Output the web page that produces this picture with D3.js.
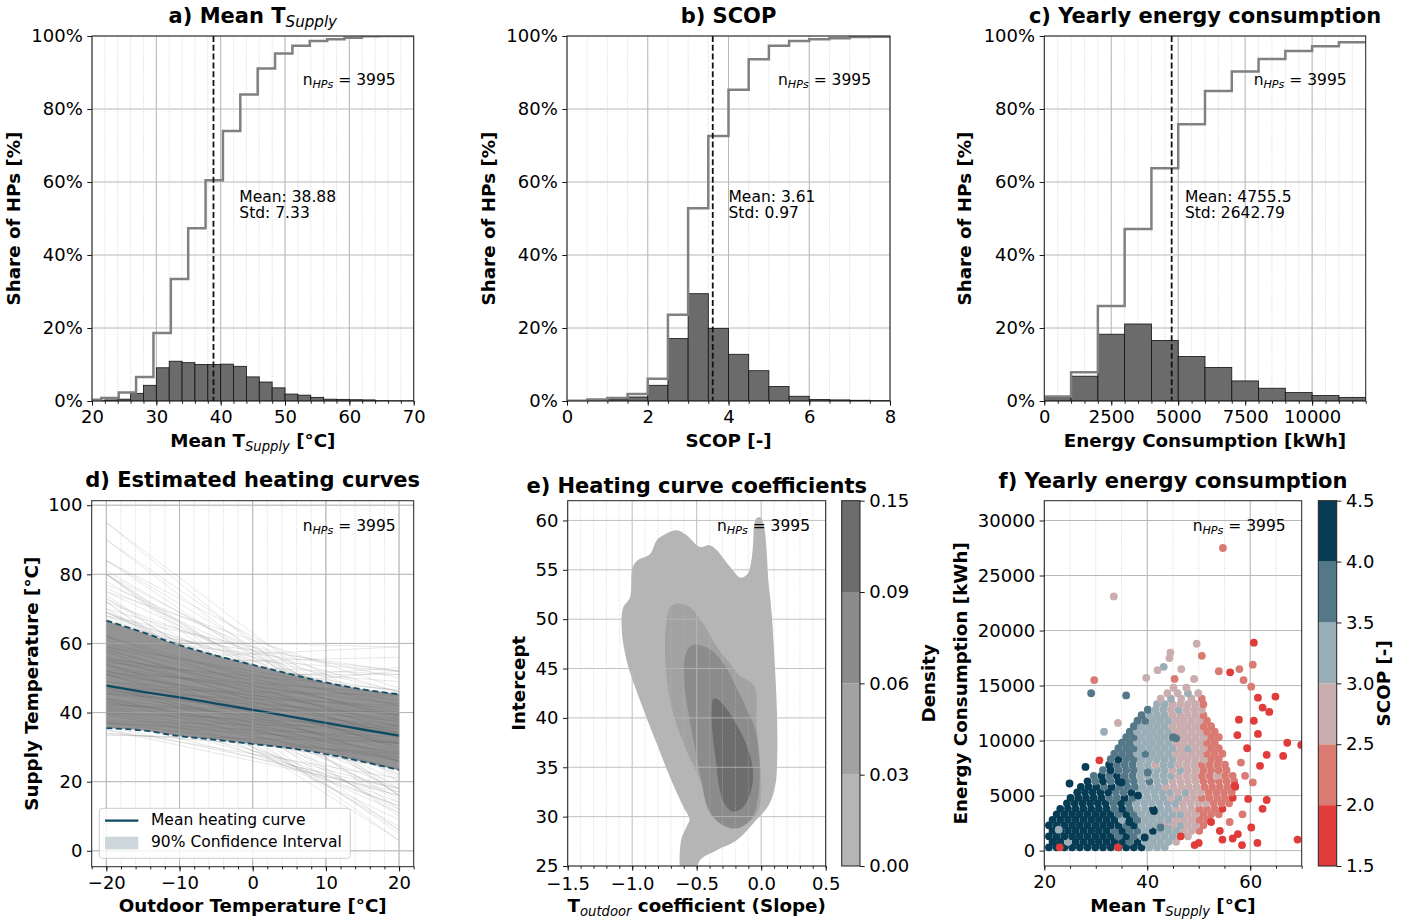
<!DOCTYPE html>
<html>
<head>
<meta charset="utf-8">
<script src="https://cdn.jsdelivr.net/npm/d3@7"></script>
<style>body{margin:0;background:#fff}</style>
</head>
<body>
<script>
// ---------- data ----------
const nHPs = 3995;

// a) mean supply temperature
const tsupEdges = [20,22,24,26,28,30,32,34,36,38,40,42,44,46,48,50,52,54,56,58,60,62,64,66,68,70];
const tsupShare = [0.1,0.3,0.5,2.1,4.3,9.1,10.9,10.5,10.0,10.0,10.1,9.5,6.6,5.2,3.6,1.9,1.6,1.0,0.5,0.45,0.35,0.3,0.1,0.05,0.05];
const tsupCumEdges = [18.75,21.45,24.15,26.85,29.55,32.25,34.95,37.65,40.35,43.05,45.75,48.45,51.15,53.85,56.55,59.25,61.95,64.65,67.35,70.05];
const tsupCum = [0.35,0.8,2.3,6.6,18.6,33.4,47.3,60.5,74.0,84.0,91.1,95.2,97.3,98.6,99.1,99.5,99.9,100,100];
const tsupStats = {mean: 38.88, std: 7.33, textX: 42.9};

// b) SCOP
const scopEdges = [0,0.5,1,1.5,2,2.5,3,3.5,4,4.5,5,5.5,6,6.5,7,7.5,8];
const scopShare = [0.05,0.2,0.5,1.1,4.3,17.1,29.4,19.9,12.8,8.3,4.0,1.3,0.4,0.3,0.2,0.1];
const scopCum = [0.1,0.4,0.8,1.9,6.1,23.6,52.8,72.6,85.3,93.6,97.3,98.6,99.1,99.4,99.7,99.8];
const scopStats = {mean: 3.61, std: 0.97, textX: 4.0};

// c) yearly energy consumption
const energyEdges = [0,1000,2000,3000,4000,5000,6000,7000,8000,9000,10000,11000,12000];
const energyShare = [1.1,6.8,18.3,21.1,16.6,12.2,9.2,5.5,3.5,2.3,1.5,1.0];
const energyCum = [1.2,7.9,26.0,47.1,63.8,75.8,84.9,90.3,93.7,95.9,97.2,98.3];
const energyStats = {mean: 4755.5, std: 2642.79, textX: 5250};

// d) heating curves
const hcTemps = [-20,-15,-10,-5,0,5,10,15,20];
const hcMean  = [47.8,46.0,44.4,42.6,40.8,38.9,37.0,35.1,33.3];
const hcUpper = [66.6,63.2,59.5,56.5,53.8,51.2,48.7,46.7,45.3];
const hcLower = [35.5,34.8,33.2,32.1,30.9,29.7,28.0,25.8,23.4];
// [intercept, slope] of individual curves (a representative subset)
const hcCore = [[31,-0.15],[31.5,-0.4],[32,-0.25],[32.5,-0.05],[33,-0.35],[33.5,-0.5],[34,-0.15],[34.5,-0.3],[35,-0.45],[35,-0.1],
  [35.5,-0.6],[36,-0.25],[36,-0.4],[36.5,-0.05],[37,-0.3],[37,-0.55],[37.5,-0.2],[38,-0.45],[38,-0.1],[38.5,-0.35],
  [39,-0.6],[39,-0.25],[39.5,-0.15],[40,-0.4],[40,-0.7],[40.5,-0.3],[41,-0.05],[41,-0.5],[41.5,-0.2],[42,-0.35],
  [42,-0.6],[42.5,-0.15],[43,-0.45],[43,-0.25],[43.5,-0.7],[44,-0.1],[44,-0.4],[44.5,-0.55],[45,-0.3],[45,-0.2],
  [45.5,-0.65],[46,-0.45],[46,-0.05],[46.5,-0.35],[47,-0.55],[47.5,-0.25],[48,-0.7],[48,-0.4],[48.5,-0.15],[49,-0.5],
  [49.5,-0.3],[50,-0.6],[50.5,-0.2],[51,-0.45],[52,-0.35]];
const hcOuter = [[60,-1.75],[58,-1.6],[57,-1.2],[55,-1.0],[53,-1.35],[51,-1.1],[54,-0.75],[56,-0.5],[58,-0.3],[60,-0.05],
  [57,0.1],[53,-0.1],[55,0.05],[50,0.15],[48,0.2],[46,-0.9],[44,-1.05],[42,-1.2],[40,-1.0],[38,-1.15],
  [36,-1.25],[34,-1.1],[32,-1.3],[30,-1.35],[29,-1.0],[28,-0.75],[27,-0.45],[28,-0.35],[29,-0.55],[26,-0.45],
  [30,-0.8],[52,-0.85],[49,-0.95],[47,-1.3],[45,-1.45],[59,-0.9],[62,-1.1],[61,-0.7],[56,-1.4],[43,0.1],[41,0.15],[39,0.05],
  [63,-1.6],[61,-1.45],[59,-1.25],[58,-1.1],[57,-0.95],[56,-0.8],[55,-0.65],[54,-0.5],[53,-0.35],[52,-0.15],
  [51,0],[54,-1.2],[52,-1.4],[50,-1.5],[48,-1.6],[46,-1.2],[44,-1.4],[42,-1.5],[40,-1.3],[38,-1.4],
  [36,-1.5],[34,-1.45],[33,-1.5],[31,-1.2],[30,-0.95],[29,-0.8],[28,-0.6],[27,-0.55],[58,-0.6],[59,-0.45],
  [57,-0.25],[55,-0.15],[53,-0.7],[50,-0.95],[48,-1.05],[45,-0.85],[43,-0.9],[41,-0.8],[39,-0.85],[37,-0.9],
  [35,-0.85],[33,-0.8]];

// e) KDE of heating curve coefficients: [slope, intercept] outlines per density level
const kdeLevels = [0, 0.03, 0.06, 0.09, 0.15];
const kdeColors = ["#b5b5b5", "#a2a2a2", "#8c8c8c", "#6d6d6d"];
const kdeOutlines = [
  [[-0.999,55.1],[-0.965,55.9],[-0.862,56.6],[-0.810,58.0],[-0.759,58.5],[-0.655,59.0],[-0.578,58.5],[-0.474,57.3],[-0.397,57.5],
   [-0.345,57.0],[-0.242,55.3],[-0.160,54.2],[-0.105,54.6],[-0.078,55.8],[-0.062,57.8],[-0.055,59.5],[-0.035,60.25],[-0.005,60.3],
   [0.022,59.4],[0.040,57.3],[0.055,54.0],[0.080,50.8],[0.105,45.5],[0.122,40.6],[0.124,36.0],[0.110,33.2],[0.060,31.2],
   [-0.035,29.7],[-0.190,27.6],[-0.345,26.6],[-0.474,25.6],[-0.520,24.0],[-0.610,24.0],[-0.621,27.6],[-0.578,29.0],[-0.556,29.7],
   [-0.603,31.0],[-0.707,34.0],[-0.810,37.4],[-0.940,41.8],[-1.043,45.8],[-1.082,49.2],[-1.069,51.2],[-1.017,52.2]],
  [[-0.655,51.6],[-0.707,51.2],[-0.733,49.9],[-0.746,47.5],[-0.733,44.1],[-0.681,40.4],[-0.578,36.7],[-0.474,33.7],[-0.397,30.3],
   [-0.294,29.3],[-0.139,29.15],[-0.035,30.3],[0.004,32.4],[-0.009,35.7],[-0.035,39.1],[-0.048,43.1],[-0.100,43.8],[-0.152,44.1],
   [-0.242,45.5],[-0.345,47.2],[-0.448,49.5],[-0.552,51.2]],
  [[-0.539,47.35],[-0.590,46.3],[-0.598,43.6],[-0.565,40.6],[-0.513,36.9],[-0.461,33.5],[-0.410,30.8],[-0.319,29.3],[-0.190,28.8],
   [-0.074,29.8],[-0.022,32.2],[-0.014,35.5],[-0.048,38.9],[-0.112,40.9],[-0.190,43.0],[-0.267,45.0],[-0.371,46.7],[-0.474,47.35]],
  [[-0.371,41.95],[-0.384,40.9],[-0.376,38.25],[-0.350,35.55],[-0.324,32.85],[-0.280,31.2],[-0.216,30.5],[-0.138,31.0],[-0.074,32.85],
   [-0.066,34.9],[-0.112,37.2],[-0.190,39.3],[-0.267,40.9],[-0.345,41.95]]
];

// f) scatter. Dense cluster as rows: [energy kWh, [mean supply temps], [SCOP]]
const scopBounds = [1.5, 2.0, 2.5, 3.0, 3.5, 4.0, 4.5];
const scopColors = ["#e03c3a", "#d97b73", "#c9adaf", "#9aaeb7", "#557889", "#063d55"];
const hpRows = [
 [300,[20.9,22.4,23.9,25.4,26.9,28.4,29.9,31.4,32.9,34.4,35.9,37.4,38.9,40.4,41.9,43.4],
      [4.3,4.2,4.4,4.2,4.3,4.1,4.2,4.3,4.0,4.2,4.1,4.2,4.2,3.2,3.1,3.0]],
 [800,[21.6,23.1,24.6,26.1,27.6,29.1,30.6,32.1,33.6,35.1,36.6,38.1,39.6,41.1,42.6,44.1,45.6],
      [4.2,4.3,3.2,4.4,4.1,4.3,4.2,4.2,4.0,4.3,3.7,4.1,3.3,3.2,3.1,3.3,2.8]],
 [1300,[20.9,22.4,23.9,25.4,26.9,28.4,29.9,31.4,32.9,34.4,35.9,37.4,38.9,40.4,41.9,43.4,44.9,46.4,47.9],
      [4.3,4.2,4.3,4.4,4.1,4.3,4.2,4.0,4.2,3.7,4.3,3.8,3.4,3.2,3.3,3.1,3.2,2.9,2.7]],
 [1800,[21.6,23.1,24.6,26.1,27.6,29.1,30.6,32.1,33.6,35.1,36.6,38.1,39.6,41.1,42.6,44.1,45.6,47.1,48.6,50.1],
      [4.2,4.4,4.2,4.3,4.1,4.3,4.2,4.3,3.7,4.2,3.8,3.6,3.2,4.1,3.1,3.2,3.0,2.8,2.7,2.4]],
 [2300,[20.9,22.4,23.9,25.4,26.9,28.4,29.9,31.4,32.9,34.4,35.9,37.4,38.9,40.4,41.9,43.4,44.9,46.4,47.9,49.4,50.9],
      [4.3,4.2,4.3,4.2,4.4,4.1,4.3,4.2,4.1,4.3,3.7,4.2,3.3,3.2,3.4,2.7,2.8,3.2,2.7,2.6,2.3]],
 [2800,[21.6,23.1,24.6,26.1,27.6,29.1,30.6,32.1,33.6,35.1,36.6,38.1,39.6,41.1,42.6,44.1,45.6,47.1,48.6,50.1,51.6],
      [4.2,4.3,4.4,4.1,4.3,4.2,4.2,4.3,4.0,3.2,4.2,3.6,3.3,3.2,3.1,3.3,2.9,2.7,2.8,2.4,2.2]],
 [3300,[22.4,23.9,25.4,26.9,28.4,29.9,31.4,32.9,34.4,35.9,37.4,38.9,40.4,41.9,43.4,44.9,46.4,47.9,49.4,50.9,52.4,53.9],
      [4.3,4.2,4.3,4.4,4.2,4.1,4.3,4.2,3.7,4.2,3.8,3.3,3.2,3.1,3.3,3.0,3.2,2.7,2.6,2.3,2.2,2.1]],
 [3800,[23.1,24.6,26.1,27.6,29.1,30.6,32.1,33.6,35.1,36.6,38.1,39.6,41.1,42.6,44.1,45.6,47.1,48.6,50.1,51.6,53.1,54.6],
      [4.2,4.3,4.1,4.3,4.2,4.4,4.2,3.8,4.1,3.7,3.4,3.2,4.2,3.1,3.2,2.9,2.7,2.8,2.4,2.2,2.3,1.9]],
 [4300,[24.4,25.9,27.4,28.9,30.4,31.9,33.4,34.9,36.4,37.9,39.4,40.9,42.4,43.9,45.4,46.9,48.4,49.9,51.4,52.9,54.4,55.9],
      [4.3,4.2,4.3,4.1,4.2,4.3,3.9,4.2,3.7,3.3,3.2,3.4,3.1,3.2,3.0,2.8,2.7,2.6,2.7,2.2,2.1,2.4]],
 [4800,[25.1,26.6,28.1,29.6,31.1,32.6,34.1,35.6,37.1,38.6,40.1,41.6,43.1,44.6,46.1,47.6,49.1,50.6,52.1,53.6,55.1,56.6],
      [4.2,4.3,4.2,4.1,4.3,3.7,3.7,4.1,3.6,3.3,3.2,3.1,3.3,2.9,3.1,2.7,2.8,2.4,2.2,2.3,2.1,1.9]],
 [5300,[26.4,27.9,29.4,30.9,32.4,33.9,35.4,36.9,38.4,39.9,41.4,42.9,44.4,45.9,47.4,48.9,50.4,51.9,53.4,54.9,56.4],
      [4.3,4.2,4.1,4.3,4.2,3.8,3.7,4.1,3.3,3.2,3.1,3.4,3.0,2.8,3.2,2.7,2.6,2.3,2.2,2.4,2.1]],
 [5800,[27.1,28.6,30.1,31.6,33.1,34.6,36.1,37.6,39.1,40.6,42.1,43.6,45.1,46.6,48.1,49.6,51.1,52.6,54.1,55.6,57.1],
      [4.2,4.1,4.3,3.8,4.2,3.7,3.7,3.6,3.3,3.2,3.1,2.7,2.9,2.8,2.7,2.6,2.4,2.2,2.3,2.1,1.9]],
 [6300,[28.4,29.9,31.4,32.9,34.4,35.9,37.4,38.9,40.4,41.9,43.4,44.9,46.4,47.9,49.4,50.9,52.4,53.9,55.4,56.9],
      [4.2,3.8,4.1,3.7,4.2,3.7,3.6,3.3,3.7,3.4,3.1,2.9,2.8,2.7,2.6,2.3,2.2,2.4,2.1,2.2]],
 [6800,[29.6,31.1,32.6,34.1,35.6,37.1,38.6,40.1,41.6,43.1,44.6,46.1,47.6,49.1,50.6,52.1,53.6,55.1,56.6],
      [3.8,4.2,3.7,4.1,3.7,3.6,3.3,3.2,3.1,3.3,3.0,2.8,2.7,2.8,2.4,2.2,2.7,2.1,2.2]],
 [7300,[31.4,32.9,34.4,35.9,37.4,38.9,40.4,41.9,43.4,44.9,46.4,47.9,49.4,50.9,52.4,53.9,55.4],
      [3.7,4.2,3.8,3.7,3.7,3.3,3.2,3.1,3.2,2.9,3.2,2.7,2.6,2.3,2.2,2.3,2.1]],
 [7800,[32.6,34.1,35.6,37.1,38.6,40.1,41.6,43.1,44.6,46.1,47.6,49.1,50.6,52.1,53.6,55.1],
      [4.2,3.7,3.8,3.6,3.3,3.2,2.7,3.1,3.2,2.9,2.7,2.8,2.4,2.2,2.3,2.1]],
 [8300,[32.9,34.4,35.9,37.4,38.9,40.4,41.9,43.4,44.9,46.4,47.9,49.4,50.9,52.4,53.9],
      [3.7,4.2,3.7,3.6,3.3,3.2,3.1,3.3,3.0,2.8,2.7,2.6,2.7,2.2,2.4]],
 [8800,[33.6,35.1,36.6,38.1,39.6,41.1,42.6,44.1,45.6,47.1,48.6,50.1,51.6,53.1,54.6],
      [3.7,3.8,3.7,3.4,3.7,3.3,3.1,3.2,2.9,2.8,2.7,2.6,2.4,2.2,2.3]],
 [9300,[34.4,35.9,37.4,38.9,40.4,41.9,43.4,44.9,46.4,47.9,49.4,50.9,52.4,53.9],
      [3.7,3.7,3.6,3.3,3.2,3.4,3.1,3.2,2.9,3.2,2.7,2.6,2.2,2.3]],
 [9800,[35.1,36.6,38.1,39.6,41.1,42.6,44.1,45.6,47.1,48.6,50.1,51.6,53.1],
      [3.8,3.7,3.3,3.2,3.1,3.3,3.2,2.7,2.8,2.7,2.6,2.4,2.2]],
 [10300,[35.9,37.4,38.9,40.4,41.9,43.4,44.9,46.4,47.9,49.4,50.9,52.4,53.9],
      [3.7,3.6,3.3,3.2,3.4,3.1,3.2,2.9,2.8,2.7,2.6,2.2,2.3]],
 [10800,[36.6,38.1,39.6,41.1,42.6,44.1,45.6,47.1,48.6,50.1,51.6,53.1],
      [3.7,3.3,3.2,3.1,3.3,3.2,2.9,2.8,2.7,2.6,2.4,2.2]],
 [11300,[37.4,38.9,40.4,41.9,43.4,44.9,46.4,47.9,49.4,50.9,52.4],
      [3.7,3.3,3.2,3.1,3.3,2.9,2.8,2.7,2.6,2.4,2.2]],
 [11800,[38.1,39.6,41.1,42.6,44.1,45.6,47.1,48.6,50.1,51.6],
      [3.6,3.7,3.2,3.3,3.1,2.9,2.8,2.7,2.6,2.3]],
 [12300,[38.9,40.4,41.9,43.4,44.9,46.4,47.9,49.4,50.9],
      [3.7,3.2,3.3,3.1,2.9,2.8,2.7,2.6,2.3]],
 [12800,[40.1,41.6,43.1,44.6,46.1,47.6,49.1,50.6],
      [3.7,3.3,3.2,2.8,3.1,2.7,2.8,2.6]],
 [13300,[41.9,43.4,44.9,46.4,47.9,49.4,50.9],[3.3,3.2,2.8,2.7,2.8,2.6,2.3]],
 [13800,[42.6,44.6,46.6,48.6,50.6],[2.8,3.2,2.7,2.8,2.2]],
 [14300,[43.9,45.9,47.9,49.9],[2.8,2.7,3.2,2.7]],
 [14800,[45.1,47.6],[2.7,2.8]]
];
// scattered heat pumps outside the dense cluster: [mean supply temp, energy kWh, SCOP]
const hpOutliers = [
 [36.5,2600,4.3],[38.2,5000,4.2],[40.1,7100,3.7],[41.3,3600,4.1],[39.5,1200,4.3],[42.6,2100,3.7],[45.0,10300,3.7],[35.0,6200,4.1],[44.0,2000,3.2],
 [54.7,27500,2.2],[33.5,23100,2.7],[49.6,18800,2.7],[60.7,18900,1.8],[50.6,17700,2.2],[44.5,18000,2.7],[44.3,17500,2.7],[60.5,16900,2.2],
 [29.7,15500,2.2],[29.1,14300,3.7],[35.9,14100,3.7],[39.8,15700,2.7],[43.2,16700,3.2],[42.0,16400,2.7],[45.3,15600,2.2],[46.6,16500,2.7],
 [49.1,15600,2.7],[53.9,16300,2.2],[56.1,16200,1.8],[57.9,16500,2.2],[58.7,15500,2.2],[60.2,14900,2.2],[61.5,13900,1.8],[62.4,13000,1.8],
 [63.7,12600,1.8],[64.9,14000,1.8],[57.8,11900,1.8],[60.7,11800,1.8],[61.5,10600,1.8],[63.2,8700,1.8],[67.2,9800,1.8],[66.4,8600,1.8],
 [69.9,9600,1.8],[59.4,9300,1.8],[61.9,7700,1.8],[63.2,4600,1.8],[62.4,3800,1.8],[59.6,4700,1.8],[54.1,1800,1.8],[54.6,1000,1.8],
 [56.6,1100,1.8],[58.4,500,1.8],[61.4,700,1.8],[69.2,1000,1.8],[49.2,500,1.8],[46.5,1300,1.8],[34.3,300,1.8],[23.0,300,1.8],
 [30.7,8200,1.8],[52.4,2600,1.8],[50.0,700,1.8],[28.0,7600,4.2],[24.9,6100,4.2],[22.8,1900,3.2],[21.7,800,4.3],[31.6,10800,3.2],
 [34.3,11600,2.7],[45.6,10200,3.7],[57.5,10500,1.8],[58.2,8000,2.2],[59.0,6800,2.2],[57.0,5900,1.8],[60.5,6200,2.2],[58.5,3300,2.2],
 [56.0,2600,2.2],[60.2,2100,1.8],[57.6,1500,1.8]
];

// ---------- layout ----------
const W = 1413, H = 919;
const FONT = "DejaVu Sans";
const TICK = 18, LAB = 18.3, TITLE = 21, NOTE = 15.5;

const svg = d3.select("body").append("svg")
  .attr("width", W).attr("height", H)
  .style("font-family", FONT);
svg.append("rect").attr("width", W).attr("height", H).attr("fill", "#fff");

let clipN = 0;
function makePanel(box, xDom, yDom) {
  const x = d3.scaleLinear().domain(xDom).range([box.l, box.r]);
  const y = d3.scaleLinear().domain(yDom).range([box.b, box.t]);
  const id = "clip" + (clipN++);
  svg.append("clipPath").attr("id", id).append("rect")
    .attr("x", box.l).attr("y", box.t).attr("width", box.r - box.l).attr("height", box.b - box.t);
  return {box, x, y, clip: "url(#" + id + ")"};
}

function grid(P, xMajor, xMinor, yMajor, op) {
  const {x, y, box} = P;
  const g = svg.append("g").attr("opacity", op == null ? 1 : op);
  g.selectAll(null).data(xMinor).join("line")
    .attr("x1", d => x(d)).attr("x2", d => x(d)).attr("y1", box.t).attr("y2", box.b)
    .attr("stroke", "#c4c4c4").attr("stroke-width", 0.7).attr("stroke-dasharray", "1,1.5");
  g.selectAll(null).data(xMajor).join("line")
    .attr("x1", d => x(d)).attr("x2", d => x(d)).attr("y1", box.t).attr("y2", box.b)
    .attr("stroke", "#b8b8b8").attr("stroke-width", 1);
  g.selectAll(null).data(yMajor).join("line")
    .attr("y1", d => y(d)).attr("y2", d => y(d)).attr("x1", box.l).attr("x2", box.r)
    .attr("stroke", "#b8b8b8").attr("stroke-width", 1);
}

function styleAxis(a) {
  a.select(".domain").remove();
  a.selectAll("text").attr("font-size", TICK).attr("font-family", FONT).attr("fill", "#000");
  a.selectAll("line").attr("stroke", "#000").attr("stroke-width", 0.9);
}

function axes(P, o) {
  const {x, y, box} = P;
  svg.append("g").attr("transform", `translate(0,${box.b})`)
    .call(d3.axisBottom(x).tickValues(o.xt).tickFormat(o.xf).tickSize(4.7).tickPadding(o.xpad || 4.5)).call(styleAxis);
  svg.append("g").attr("transform", `translate(0,${box.b})`)
    .call(d3.axisBottom(x).tickValues(o.xm).tickFormat("").tickSize(2.7)).call(styleAxis);
  svg.append("g").attr("transform", `translate(${box.l},0)`)
    .call(d3.axisLeft(y).tickValues(o.yt).tickFormat(o.yf).tickSize(4.7).tickPadding(4.5)).call(styleAxis);
  svg.append("rect").attr("x", box.l).attr("y", box.t)
    .attr("width", box.r - box.l).attr("height", box.b - box.t)
    .attr("fill", "none").attr("stroke", "#222").attr("stroke-width", 1);
}

// text with mathtext-like subscripts: parts = [[text, isSub], ...]
function rich(x, y, parts, o) {
  const size = o.size;
  const t = svg.append("text")
    .attr("text-anchor", o.anchor || "middle")
    .attr("font-size", size).attr("font-weight", o.weight || "normal")
    .attr("font-family", FONT).attr("fill", "#000")
    .style("white-space", "pre");
  if (o.rotate) t.attr("transform", `translate(${x},${y}) rotate(${o.rotate})`);
  else t.attr("x", x).attr("y", y);
  let shift = 0;
  parts.forEach(p => {
    const s = t.append("tspan").text(p[0]);
    if (p[1]) {
      const dy = size * 0.2;
      s.attr("font-size", size * 0.72).attr("font-style", "italic").attr("font-weight", "normal").attr("dy", dy);
      shift = dy;
    } else if (shift) {
      s.attr("dy", -shift);
      shift = 0;
    }
  });
  return t;
}

function nLabel(xr, yb) {
  rich(xr, yb, [["n"], ["HPs", true], [" = " + nHPs]], {size: NOTE, anchor: "end"});
}

// ---------- histogram panels ----------
const pctFmt = d => d + "%";
const pctTicks = [0, 20, 40, 60, 80, 100];

function histPanel(box, xDom, edges, share, cumEdges, cum, stats, xt, xm, xf, title, xlab, ylabX, nX) {
  const P = makePanel(box, xDom, [0, 100]);
  const {x, y} = P;
  grid(P, xt, xm, pctTicks);
  const g = svg.append("g").attr("clip-path", P.clip);
  g.selectAll(null).data(share).join("rect")
    .attr("x", (d, i) => x(edges[i]))
    .attr("width", (d, i) => x(edges[i + 1]) - x(edges[i]))
    .attr("y", d => y(d)).attr("height", d => y(0) - y(d))
    .attr("fill", "#6b6b6b").attr("stroke", "#111").attr("stroke-width", 0.8);
  const pts = [[cumEdges[0], 0]].concat(cum.map((v, i) => [cumEdges[i], v]), [[cumEdges[cum.length], cum[cum.length - 1]]]);
  g.append("path").datum(pts)
    .attr("d", d3.line().x(d => x(d[0])).y(d => y(d[1])).curve(d3.curveStepAfter))
    .attr("fill", "none").attr("stroke", "#808080").attr("stroke-width", 2.5);
  g.append("line").attr("x1", x(stats.mean)).attr("x2", x(stats.mean))
    .attr("y1", box.t).attr("y2", box.b)
    .attr("stroke", "#111").attr("stroke-width", 1.8).attr("stroke-dasharray", "6,2.8");
  axes(P, {xt, xm, xf, yt: pctTicks, yf: pctFmt});
  rich(x(stats.textX), 201.7, [["Mean: " + stats.mean]], {size: NOTE, anchor: "start"});
  rich(x(stats.textX), 218.3, [["Std: " + stats.std]], {size: NOTE, anchor: "start"});
  nLabel(nX, 85);
  rich((box.l + box.r) / 2, 23, title, {size: TITLE, weight: "bold"});
  rich((box.l + box.r) / 2, 447, xlab, {size: LAB, weight: "bold"});
  rich(ylabX, (box.t + box.b) / 2, [["Share of HPs [%]"]], {size: LAB, weight: "bold", rotate: -90});
}

histPanel({l: 92, r: 413.7, t: 36, b: 401}, [20, 70], tsupEdges, tsupShare, tsupCumEdges, tsupCum, tsupStats,
  [20, 30, 40, 50, 60, 70], d3.range(20, 71, 2), d3.format("d"),
  [["a) Mean T"], ["Supply", true]], [["Mean T"], ["Supply", true], [" [°C]"]], 19.8, 395.7);

histPanel({l: 567, r: 890, t: 36, b: 401}, [0, 8], scopEdges, scopShare, scopEdges, scopCum, scopStats,
  [0, 2, 4, 6, 8], d3.range(0, 8.01, 0.5), d3.format("d"),
  [["b) SCOP"]], [["SCOP [-]"]], 494.5, 871);

histPanel({l: 1044.3, r: 1365.7, t: 36, b: 401}, [0, 12000], energyEdges, energyShare, energyEdges, energyCum, energyStats,
  [0, 2500, 5000, 7500, 10000], d3.range(0, 12001, 500), d3.format("d"),
  [["c) Yearly energy consumption"]], [["Energy Consumption [kWh]"]], 970.5, 1346.7);

// ---------- d) heating curves ----------
(function () {
  const box = {l: 91.7, r: 413.7, t: 500.7, b: 866.7};
  const P = makePanel(box, [-22, 22], [-4.6, 101.3]);
  const {x, y} = P;
  grid(P, [-20, -10, 0, 10, 20], d3.range(-22, 23, 2), [0, 20, 40, 60, 80, 100]);
  const g = svg.append("g").attr("clip-path", P.clip);
  const seg = c => [[-20, c[0] - 20 * c[1]], [20, c[0] + 20 * c[1]]];
  const ln = d3.line().x(d => x(d[0])).y(d => y(d[1]));
  g.selectAll(null).data(hcOuter).join("path")
    .attr("d", c => ln(seg(c))).attr("fill", "none")
    .attr("stroke", "#8a8a8a").attr("stroke-opacity", 0.22).attr("stroke-width", 0.9);
  const band = d3.area().x((d, i) => x(hcTemps[i])).y0((d, i) => y(hcLower[i])).y1(d => y(d)).curve(d3.curveMonotoneX);
  g.append("path").datum(hcUpper).attr("d", band).attr("fill", "#939393");
  g.selectAll(null).data(hcCore).join("path")
    .attr("d", c => ln(seg(c))).attr("fill", "none")
    .attr("stroke", "#6e6e6e").attr("stroke-opacity", 0.3).attr("stroke-width", 0.8);
  grid(P, [-20, -10, 0, 10, 20], [], [0, 20, 40, 60, 80, 100], 0.4);
  const cl = d3.line().x((d, i) => x(hcTemps[i])).y(d => y(d)).curve(d3.curveMonotoneX);
  [hcUpper, hcLower].forEach(arr => {
    g.append("path").datum(arr).attr("d", cl).attr("fill", "none")
      .attr("stroke", "#124e68").attr("stroke-width", 1.8).attr("stroke-dasharray", "6,3.5");
  });
  g.append("path").datum(hcMean).attr("d", cl).attr("fill", "none")
    .attr("stroke", "#0f4a63").attr("stroke-width", 2.3);
  axes(P, {xt: [-20, -10, 0, 10, 20], xm: d3.range(-22, 23, 2), xf: d3.format("d"),
           yt: [0, 20, 40, 60, 80, 100], yf: d3.format("d")});
  // legend
  const lg = svg.append("g");
  lg.append("rect").attr("x", 99.3).attr("y", 808.3).attr("width", 251).attr("height", 50)
    .attr("rx", 3).attr("fill", "#fff").attr("fill-opacity", 0.8).attr("stroke", "#cccccc");
  lg.append("line").attr("x1", 105).attr("x2", 138.3).attr("y1", 820.7).attr("y2", 820.7)
    .attr("stroke", "#0f4a63").attr("stroke-width", 2.3);
  lg.append("rect").attr("x", 105).attr("y", 836.7).attr("width", 33.3).attr("height", 12.6).attr("fill", "#ccd6db");
  rich(151, 825, [["Mean heating curve"]], {size: NOTE, anchor: "start"});
  rich(151, 847.3, [["90% Confidence Interval"]], {size: NOTE, anchor: "start"});
  nLabel(395.7, 530.7);
  rich(252.7, 487, [["d) Estimated heating curves"]], {size: TITLE, weight: "bold"});
  rich(252.7, 912, [["Outdoor Temperature [°C]"]], {size: LAB, weight: "bold"});
  rich(38.2, 683.7, [["Supply Temperature [°C]"]], {size: LAB, weight: "bold", rotate: -90});
})();

// ---------- e) KDE of coefficients ----------
(function () {
  const box = {l: 567.7, r: 825.7, t: 500.7, b: 866};
  const P = makePanel(box, [-1.5, 0.5], [25, 62]);
  const {x, y} = P;
  const g = svg.append("g").attr("clip-path", P.clip);
  const shape = d3.line().x(d => x(d[0])).y(d => y(d[1])).curve(d3.curveCatmullRomClosed.alpha(0.5));
  g.selectAll(null).data(kdeOutlines).join("path")
    .attr("d", shape).attr("fill", (d, i) => kdeColors[i]);
  grid(P, [-1.5, -1.0, -0.5, 0, 0.5], d3.range(-1.5, 0.51, 0.1), [25, 30, 35, 40, 45, 50, 55, 60], 0.85);
  axes(P, {xt: [-1.5, -1.0, -0.5, 0, 0.5], xm: d3.range(-1.5, 0.51, 0.1), xf: d3.format(".1f"), xpad: 6.5,
           yt: [25, 30, 35, 40, 45, 50, 55, 60], yf: d3.format("d")});
  // colorbar
  const cb = {l: 841.7, r: 860, t: 500.7, b: 866};
  const yc = d3.scalePoint().domain(kdeLevels).range([cb.b, cb.t]);
  svg.append("g").selectAll(null).data(kdeColors).join("rect")
    .attr("x", cb.l).attr("width", cb.r - cb.l)
    .attr("y", (d, i) => yc(kdeLevels[i + 1])).attr("height", (d, i) => yc(kdeLevels[i]) - yc(kdeLevels[i + 1]))
    .attr("fill", d => d);
  svg.append("rect").attr("x", cb.l).attr("y", cb.t).attr("width", cb.r - cb.l).attr("height", cb.b - cb.t)
    .attr("fill", "none").attr("stroke", "#222").attr("stroke-width", 1);
  svg.append("g").attr("transform", `translate(${cb.r},0)`)
    .call(d3.axisRight(yc).tickFormat(d3.format(".2f")).tickSize(4.7).tickPadding(4.5)).call(styleAxis);
  nLabel(810, 530.7);
  rich(696.7, 492.5, [["e) Heating curve coefficients"]], {size: TITLE, weight: "bold"});
  rich(696.7, 912, [["T"], ["outdoor", true], [" coefficient (Slope)"]], {size: LAB, weight: "bold"});
  rich(524.5, 683.3, [["Intercept"]], {size: LAB, weight: "bold", rotate: -90});
  rich(934.5, 683.3, [["Density"]], {size: LAB, weight: "bold", rotate: -90});
})();

// ---------- f) energy vs supply temperature ----------
(function () {
  const box = {l: 1044.3, r: 1301.7, t: 500.7, b: 866};
  const P = makePanel(box, [20, 70], [-1400, 31800]);
  const {x, y} = P;
  const yt = [0, 5000, 10000, 15000, 20000, 25000, 30000];
  grid(P, [20, 40, 60], d3.range(20, 71, 5), yt);
  const color = d3.scaleThreshold().domain(scopBounds.slice(1, -1)).range(scopColors);
  const points = hpRows.flatMap(r => r[1].map((t, i) => [t, r[0], r[2][i]])).concat(hpOutliers);
  svg.append("g").attr("clip-path", P.clip)
    .selectAll(null).data(points).join("circle")
    .attr("cx", d => x(d[0])).attr("cy", d => y(d[1])).attr("r", 3.9)
    .attr("fill", d => color(d[2]));
  axes(P, {xt: [20, 40, 60], xm: d3.range(20, 71, 5), xf: d3.format("d"), yt, yf: d3.format("d")});
  // colorbar
  const cb = {l: 1318.3, r: 1336.7, t: 500.7, b: 866};
  const yc = d3.scaleLinear().domain([1.5, 4.5]).range([cb.b, cb.t]);
  svg.append("g").selectAll(null).data(scopColors).join("rect")
    .attr("x", cb.l).attr("width", cb.r - cb.l)
    .attr("y", (d, i) => yc(scopBounds[i + 1])).attr("height", (d, i) => yc(scopBounds[i]) - yc(scopBounds[i + 1]))
    .attr("fill", d => d);
  svg.append("rect").attr("x", cb.l).attr("y", cb.t).attr("width", cb.r - cb.l).attr("height", cb.b - cb.t)
    .attr("fill", "none").attr("stroke", "#222").attr("stroke-width", 1);
  svg.append("g").attr("transform", `translate(${cb.r},0)`)
    .call(d3.axisRight(yc).tickValues(scopBounds).tickFormat(d3.format(".1f")).tickSize(4.7).tickPadding(4.5)).call(styleAxis);
  nLabel(1285.7, 530.7);
  rich(1173, 488, [["f) Yearly energy consumption"]], {size: TITLE, weight: "bold"});
  rich(1173, 912, [["Mean T"], ["Supply", true], [" [°C]"]], {size: LAB, weight: "bold"});
  rich(966.5, 683.3, [["Energy Consumption [kWh]"]], {size: LAB, weight: "bold", rotate: -90});
  rich(1389.5, 683.3, [["SCOP [-]"]], {size: LAB, weight: "bold", rotate: -90});
})();
</script>
</body>
</html>
